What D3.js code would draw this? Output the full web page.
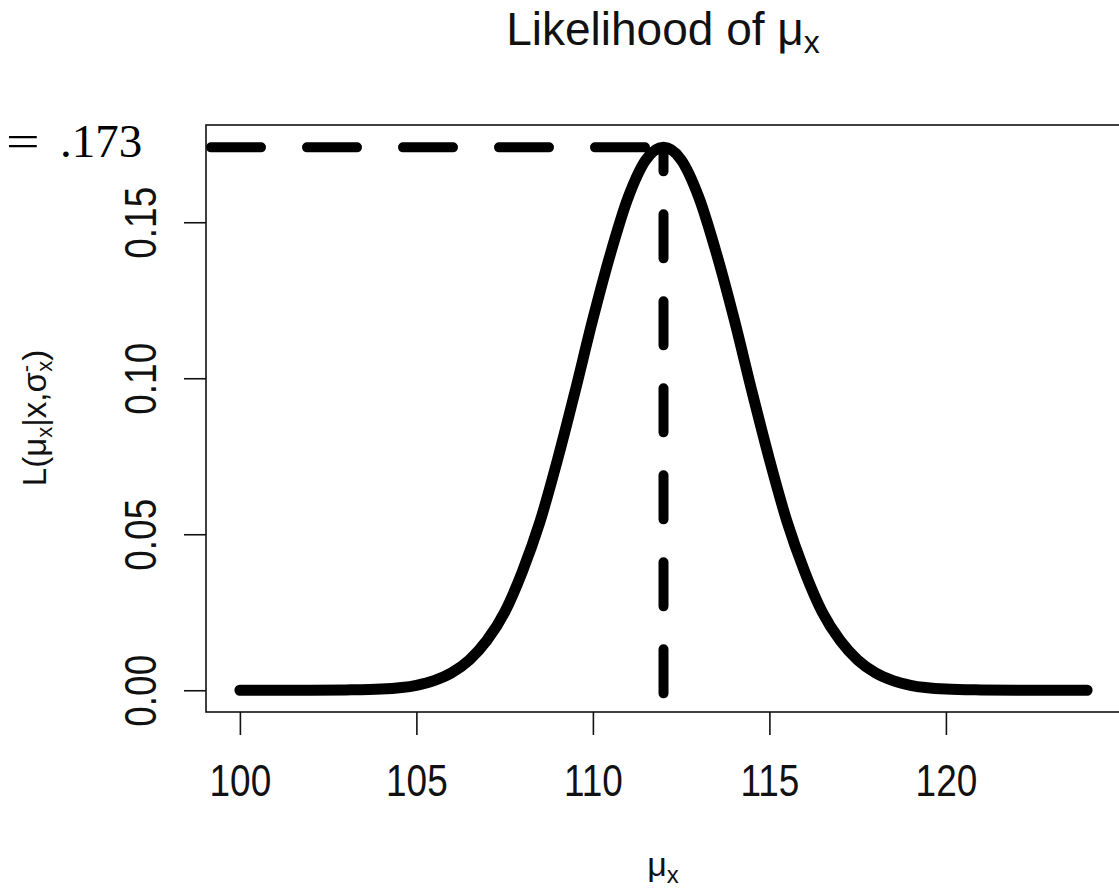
<!DOCTYPE html>
<html>
<head>
<meta charset="utf-8">
<script src="https://cdn.jsdelivr.net/npm/d3@7"></script>
<style>
  body { margin: 0; background: #fff; }
  svg { display: block; }
</style>
</head>
<body>
<div id="chart"></div>
<script>
// values
var muX = [100, 101, 102, 103, 104, 105, 105.5, 106, 106.5, 107, 107.5, 108, 108.5, 109, 109.5, 110, 110.5, 111, 111.5,
           112,
           112.5, 113, 113.5, 114, 114.5, 115, 115.5, 116, 116.5, 117, 117.5, 118, 118.5, 119, 120, 121, 122, 123, 124];
var likelihood = [0, 0, 0, 0.0001, 0.0004, 0.0016, 0.0031, 0.0056, 0.0097, 0.016, 0.025, 0.038, 0.054, 0.074, 0.096, 0.119, 0.140, 0.158, 0.170,
                  0.174,
                  0.170, 0.158, 0.140, 0.119, 0.096, 0.074, 0.054, 0.038, 0.025, 0.016, 0.0097, 0.0056, 0.0031, 0.0016, 0.0004, 0.0001, 0, 0, 0];
var xTicks = [100, 105, 110, 115, 120];
var yTicks = [0, 0.05, 0.10, 0.15];
var yTickLabels = ["0.00", "0.05", "0.10", "0.15"];
var peakMu = 112;
var peakL = 0.174;

function makeChart() {
    var svgWidth = 1119;
    var svgHeight = 890;
    var box = {left: 206, right: 1121, top: 125, bottom: 712};

    var svg = d3.select("#chart")
        .append("svg")
        .attr("width", svgWidth)
        .attr("height", svgHeight);

    // R style 4% padding around the data range
    var xScale = d3.scaleLinear()
        .domain([99.04, 124.96])
        .range([box.left, box.right]);

    var yScale = d3.scaleLinear()
        .domain([-0.00697, 0.18117])
        .range([box.bottom, box.top]);

    svg.append("clipPath").attr("id", "plotclip")
        .append("rect")
        .attr("x", box.left).attr("y", box.top)
        .attr("width", box.right - box.left).attr("height", box.bottom - box.top);

    var pts = muX.map(function(m, i) { return {mu: m, L: likelihood[i]}; });

    var plot = svg.append("g").attr("clip-path", "url(#plotclip)");

    // horizontal dashed line at the max
    plot.append("line")
        .attr("x1", box.left)
        .attr("x2", xScale(peakMu))
        .attr("y1", yScale(peakL))
        .attr("y2", yScale(peakL))
        .attr("stroke", "#000")
        .attr("stroke-width", 10)
        .attr("stroke-linecap", "round")
        .attr("stroke-dasharray", "50 46")
        .attr("stroke-dashoffset", 91);

    // vertical dashed line at the max
    plot.append("line")
        .attr("x1", xScale(peakMu))
        .attr("x2", xScale(peakMu))
        .attr("y1", yScale(peakL))
        .attr("y2", box.bottom)
        .attr("stroke", "#000")
        .attr("stroke-width", 10)
        .attr("stroke-linecap", "round")
        .attr("stroke-dasharray", "44 43")
        .attr("stroke-dashoffset", 20);

    var line = d3.line()
        .x(function(d) { return xScale(d.mu); })
        .y(function(d) { return yScale(d.L); })
        .curve(d3.curveMonotoneX);

    plot.append("path")
        .datum(pts)
        .attr("d", line)
        .attr("fill", "none")
        .attr("stroke", "#000")
        .attr("stroke-width", 11)
        .attr("stroke-linecap", "round")
        .attr("stroke-linejoin", "round");

    // box
    svg.append("rect")
        .attr("x", box.left).attr("y", box.top)
        .attr("width", box.right - box.left).attr("height", box.bottom - box.top)
        .attr("fill", "none")
        .attr("stroke", "#111")
        .attr("stroke-width", 1.6);

    // x axis
    var xAxis = d3.axisBottom(xScale).tickValues(xTicks).tickSize(23).tickPadding(30);
    var gx = svg.append("g")
        .attr("transform", `translate(0, ${box.bottom})`)
        .call(xAxis);
    gx.select(".domain").remove();
    gx.selectAll(".tick line").attr("stroke", "#111").attr("stroke-width", 1.6);
    gx.selectAll(".tick text")
        .attr("font-family", "Liberation Sans, Arial, sans-serif")
        .attr("font-size", 44)
        .attr("fill", "#111")
        .attr("transform", "scale(0.84,1)");

    // y axis
    var yAxis = d3.axisLeft(yScale).tickValues(yTicks).tickSize(22)
        .tickFormat(function(d, i) { return yTickLabels[i]; });
    var gy = svg.append("g")
        .attr("transform", `translate(${box.left}, 0)`)
        .call(yAxis);
    gy.select(".domain").remove();
    gy.selectAll(".tick line").attr("stroke", "#111").attr("stroke-width", 1.6);
    gy.selectAll(".tick text")
        .attr("x", null)
        .attr("dy", null)
        .attr("text-anchor", "middle")
        .attr("font-family", "Liberation Sans, Arial, sans-serif")
        .attr("font-size", 44)
        .attr("fill", "#111")
        .attr("transform", "translate(-50,0) rotate(-90) scale(0.84,1)");

    // title
    var title = svg.append("text")
        .attr("x", 663)
        .attr("y", 45)
        .attr("text-anchor", "middle")
        .attr("font-family", "Liberation Sans, Arial, sans-serif")
        .attr("font-size", 46)
        .attr("fill", "#111");
    title.append("tspan").text("Likelihood of \u03bc");
    title.append("tspan").attr("font-size", 32).attr("dy", 8).text("x");

    // x label
    var xl = svg.append("text")
        .attr("x", 663)
        .attr("y", 876)
        .attr("text-anchor", "middle")
        .attr("font-family", "Liberation Sans, Arial, sans-serif")
        .attr("font-size", 34)
        .attr("fill", "#111");
    xl.append("tspan").text("\u03bc");
    xl.append("tspan").attr("font-size", 24).attr("dy", 7).text("x");

    // y label
    var yl = svg.append("text")
        .attr("transform", "translate(46, 418) rotate(-90)")
        .attr("text-anchor", "middle")
        .attr("font-family", "Liberation Sans, Arial, sans-serif")
        .attr("font-size", 33)
        .attr("fill", "#111");
    yl.append("tspan").text("L(\u03bc");
    yl.append("tspan").attr("font-size", 22).attr("dy", 6).text("x");
    yl.append("tspan").attr("dy", -6).text("|x,\u03c3");
    yl.append("tspan").attr("font-size", 22).attr("dy", -13).text("-");
    yl.append("tspan").attr("font-size", 22).attr("dx", -7).attr("dy", 19).text("x");
    yl.append("tspan").attr("dy", -6).text(")");

    // the cut-off maximum value at the left
    svg.append("text")
        .attr("transform", "translate(6,157) scale(1.3,1)")
        .attr("font-family", "Liberation Serif, Times New Roman, serif")
        .attr("font-size", 46)
        .attr("fill", "#000")
        .text("=");
    svg.append("text")
        .attr("x", 60)
        .attr("y", 157)
        .attr("font-family", "Liberation Serif, Times New Roman, serif")
        .attr("font-size", 47)
        .attr("fill", "#000")
        .text(".173");
}
makeChart();
</script>
</body>
</html>
